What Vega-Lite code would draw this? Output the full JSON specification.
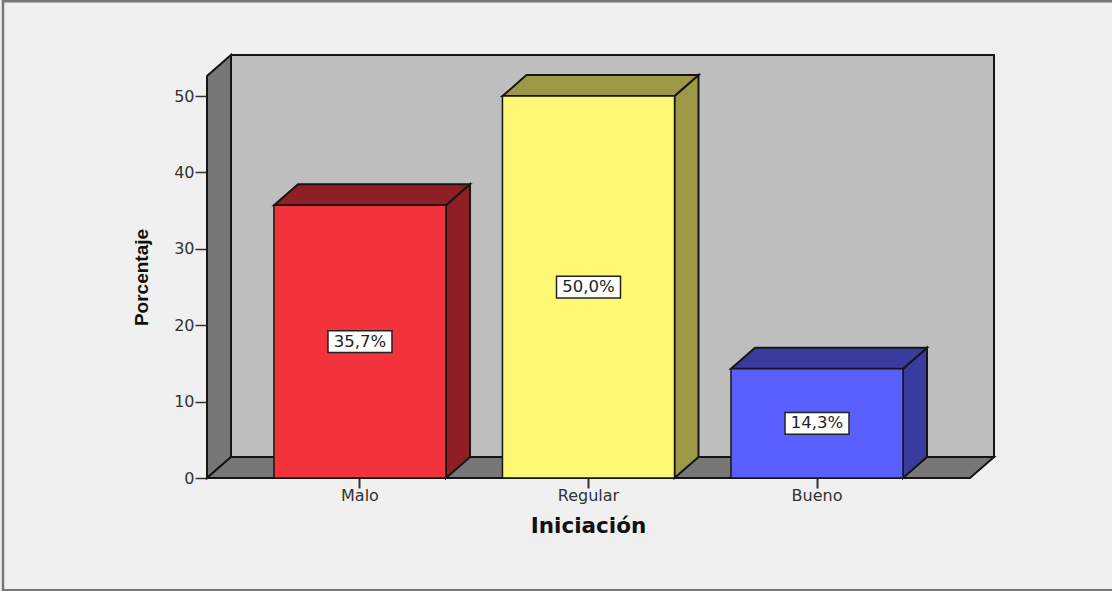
{
"$schema":"https://vega.github.io/schema/vega-lite/v6.json",
"width":787,"height":423,
"autosize":{"type":"none"},
"padding":{"left":207,"top":55,"right":118,"bottom":113},
"background":"#F0F0F0",
"view":{"stroke":null},
"datasets":{
"marco":[
{"orden":1,"pos":1000,"pct":-14.7},{"orden":2,"pos":-204,"pct":-14.7},{"orden":3,"pos":-204,"pct":62.4},{"orden":4,"pos":1000,"pct":62.4}
],
"caras":[
{"cara":"fondo","pos":24,"pct":2.75,"pct2":55.37},{"cara":"fondo","pos":787,"pct":2.75,"pct2":55.37},
{"cara":"pared","pos":0,"pct":0,"pct2":52.62},{"cara":"pared","pos":24,"pct":2.75,"pct2":55.37},
{"cara":"suelo","pos":0,"pct":0,"pct2":0},{"cara":"suelo","pos":24,"pct":0,"pct2":2.75},{"cara":"suelo","pos":763,"pct":0,"pct2":2.75},{"cara":"suelo","pos":787,"pct":2.75,"pct2":2.75},
{"cara":"Malo lado","pos":239,"pct":0,"pct2":35.7},{"cara":"Malo lado","pos":263,"pct":2.75,"pct2":38.45},
{"cara":"Malo tapa","pos":67,"pct":35.7,"pct2":35.7},{"cara":"Malo tapa","pos":91,"pct":35.7,"pct2":38.45},{"cara":"Malo tapa","pos":239,"pct":35.7,"pct2":38.45},{"cara":"Malo tapa","pos":263,"pct":38.45,"pct2":38.45},
{"cara":"Regular lado","pos":467.5,"pct":0,"pct2":50},{"cara":"Regular lado","pos":491.5,"pct":2.75,"pct2":52.75},
{"cara":"Regular tapa","pos":295.5,"pct":50,"pct2":50},{"cara":"Regular tapa","pos":319.5,"pct":50,"pct2":52.75},{"cara":"Regular tapa","pos":467.5,"pct":50,"pct2":52.75},{"cara":"Regular tapa","pos":491.5,"pct":52.75,"pct2":52.75},
{"cara":"Bueno lado","pos":696,"pct":0,"pct2":14.3},{"cara":"Bueno lado","pos":720,"pct":2.75,"pct2":17.05},
{"cara":"Bueno tapa","pos":524,"pct":14.3,"pct2":14.3},{"cara":"Bueno tapa","pos":548,"pct":14.3,"pct2":17.05},{"cara":"Bueno tapa","pos":696,"pct":14.3,"pct2":17.05},{"cara":"Bueno tapa","pos":720,"pct":17.05,"pct2":17.05}
],
"barras":[
{"categoria":"Malo","porcentaje":35.7,"centro":17.85,"etiqueta":"35,7%"},
{"categoria":"Regular","porcentaje":50.0,"centro":25.0,"etiqueta":"50,0%"},
{"categoria":"Bueno","porcentaje":14.3,"centro":7.15,"etiqueta":"14,3%"}
]
},
"resolve":{"scale":{"x":"independent","fill":"independent"},"axis":{"x":"independent","y":"independent"},"legend":{"fill":"independent"}},
"layer":[
{
"data":{"name":"caras"},
"mark":{"type":"area","stroke":"#151515","strokeWidth":2,"strokeJoin":"miter","opacity":1},
"encoding":{
"x":{"field":"pos","type":"quantitative","axis":null,"scale":{"domain":[0,787],"nice":false,"zero":false}},
"y":{"field":"pct","type":"quantitative","axis":null,"scale":{"domain":[0,55.37],"nice":false}},
"y2":{"field":"pct2"},
"detail":{"field":"cara"},
"fill":{"field":"cara","type":"nominal","legend":null,"scale":{
"domain":["fondo","pared","suelo","Malo lado","Malo tapa","Regular lado","Regular tapa","Bueno lado","Bueno tapa"],
"range":["#BEBEBE","#777777","#777777","#8F1F25","#8F1F25","#9C9845","#9C9845","#393C9E","#393C9E"]}}
}
},
{
"data":{"name":"barras"},
"mark":{"type":"bar","stroke":"#151515","strokeWidth":1.5},
"encoding":{
"x":{"field":"categoria","type":"nominal","sort":null,
"scale":{"type":"band","domain":["Malo","Regular","Bueno"],"paddingInner":0.247,"paddingOuter":0.3455,"align":0.424},
"axis":{"title":"Iniciación","titleFont":"DejaVu Sans","titleFontSize":21.5,"titleFontWeight":"bold","titleColor":"#111111","titlePadding":12,"titleX":381,
"labelFont":"DejaVu Sans","labelFontSize":16,"labelColor":"#333333","labelAngle":0,"labelPadding":-1,"tickSize":10,"tickWidth":2,"tickColor":"#333333","domain":false,"grid":false}},
"y":{"field":"porcentaje","type":"quantitative","scale":{"domain":[0,55.37],"nice":false},
"axis":{"title":"Porcentaje","titleFont":"Liberation Sans","titleFontSize":19,"titleFontWeight":"bold","titleColor":"#111111","titlePadding":22,"titleY":222,
"values":[0,10,20,30,40,50],"labelFont":"DejaVu Sans","labelFontSize":16,"labelColor":"#333333","labelPadding":1,"tickSize":12,"tickWidth":1.5,"tickColor":"#333333","domain":false,"grid":false}},
"fill":{"field":"categoria","type":"nominal","legend":null,"scale":{"domain":["Malo","Regular","Bueno"],"range":["#F2333B","#FDF975","#5A5FFF"]}}
}
},
{
"data":{"name":"barras"},
"mark":{"type":"point","shape":"M-1,-0.34H1V0.34H-1Z","size":4096,"filled":true,"fill":"#FFFFFF","stroke":"#222222","strokeWidth":1.5,"opacity":1},
"encoding":{
"x":{"field":"categoria","type":"nominal","axis":null,"sort":null,"scale":{"type":"band","domain":["Malo","Regular","Bueno"],"paddingInner":0.247,"paddingOuter":0.3455,"align":0.424}},
"y":{"field":"centro","type":"quantitative","axis":null,"scale":{"domain":[0,55.37],"nice":false}}
}
},
{
"data":{"name":"barras"},
"mark":{"type":"text","font":"DejaVu Sans","fontSize":16.5,"color":"#222222","baseline":"middle","align":"center"},
"encoding":{
"x":{"field":"categoria","type":"nominal","axis":null,"sort":null,"scale":{"type":"band","domain":["Malo","Regular","Bueno"],"paddingInner":0.247,"paddingOuter":0.3455,"align":0.424}},
"y":{"field":"centro","type":"quantitative","axis":null,"scale":{"domain":[0,55.37],"nice":false}},
"text":{"field":"etiqueta"}
}
},
{
"data":{"name":"marco"},
"mark":{"type":"line","stroke":"#777777","strokeWidth":2.5,"clip":false},
"encoding":{
"x":{"field":"pos","type":"quantitative","axis":null,"scale":{"domain":[0,787],"nice":false,"zero":false}},
"y":{"field":"pct","type":"quantitative","axis":null,"scale":{"domain":[0,55.37],"nice":false}},
"order":{"field":"orden"}
}
}
]
}
